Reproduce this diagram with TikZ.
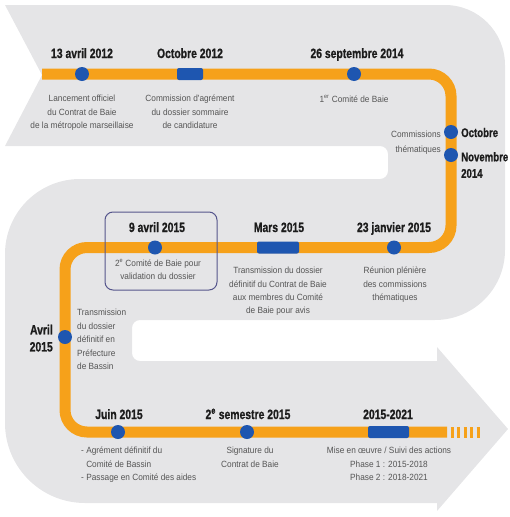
\documentclass[tikz,border=0pt]{standalone}
\usepackage{fontspec}
\setmainfont{Liberation Sans}
\newfontfamily\datef[FakeStretch=0.77,FakeBold=0.8]{Liberation Sans}
\newfontfamily\descf[FakeStretch=0.92]{Liberation Sans}
\definecolor{bgc}{RGB}{229,229,231}
\definecolor{orc}{RGB}{246,161,26}
\definecolor{blc}{RGB}{30,86,176}
\definecolor{datec}{RGB}{28,28,28}
\definecolor{descc}{RGB}{85,85,85}
\definecolor{boxc}{RGB}{85,85,140}
\tikzset{
  datelbl/.style={font=\datef\bfseries\fontsize{13.5}{17}\selectfont, text=datec, inner sep=0pt},
  sidelbl/.style={font=\datef\bfseries\fontsize{12.5}{16.5}\selectfont, text=datec, inner sep=0pt},
  desclbl/.style={font=\descf\fontsize{9}{13.3}\selectfont, text=descc, inner sep=0pt, align=center},
  dotmark/.style={circle, fill=blc, minimum size=14pt, inner sep=0pt},
  barmark/.style={rectangle, rounded corners=2pt, fill=blc, minimum height=12pt, inner sep=0pt},
  orline/.style={draw=orc, line width=11pt},
}
\begin{document}
\begin{tikzpicture}[x=1pt,y=-1pt]
\useasboundingbox (0,0) rectangle (510,517);
% background S-shaped band
\fill[bgc] (5,5) -- (445,5) arc[start angle=-90, end angle=0, radius=60]
  -- (505,250) arc[start angle=0, end angle=90, radius=70]
  -- (140,320) arc[start angle=-90, end angle=-180, radius=8]
  -- (132,353) arc[start angle=180, end angle=90, radius=8]
  -- (437,361) -- (437,347) -- (508,429) -- (437,511) -- (437,503)
  -- (85,503) arc[start angle=90, end angle=180, radius=80]
  -- (5,254) arc[start angle=180, end angle=270, radius=75]
  -- (380,179) arc[start angle=90, end angle=0, radius=8]
  -- (388,154) arc[start angle=0, end angle=-90, radius=8]
  -- (5,146) -- (42,75) -- cycle;
% orange route
\coordinate (s) at (42,74);
\coordinate (c1) at (451,74);
\coordinate (c2) at (451,247.5);
\coordinate (c3) at (65,247.5);
\coordinate (c4) at (65,432);
\coordinate (e) at (447,432);
\coordinate (d1) at (450.5,432);
\coordinate (d2) at (482,432);
\draw[orline, rounded corners=22pt] (s) -- (c1) -- (c2) -- (c3) -- (c4) -- (e);
\draw[orline, dash pattern=on 3pt off 3.5pt] (d1) -- (d2);
% highlight box
\node[draw=boxc, line width=1pt, rounded corners=8pt, minimum width=112pt, minimum height=78pt, inner sep=0pt] (hl) at (161,251) {};
% markers
\node[dotmark] (a1) at (82,74) {};
\node[barmark, minimum width=26pt] (a2) at (190,74) {};
\node[dotmark] (a3) at (354,74) {};
\node[dotmark] (o1) at (451,132) {};
\node[dotmark] (o2) at (451,155) {};
\node[dotmark] (m1) at (394,247.5) {};
\node[barmark, minimum width=42pt] (m2) at (278,247.5) {};
\node[dotmark] (m3) at (155,247.5) {};
\node[dotmark] (av) at (65,337) {};
\node[dotmark] (b1) at (118,432) {};
\node[dotmark] (b2) at (247,432) {};
\node[barmark, minimum width=41pt] (b3) at (388.5,432) {};
% dates
\node[datelbl, anchor=base] (t1) at (82,58) {13 avril 2012};
\node[datelbl, anchor=base] (t2) at (190,58) {Octobre 2012};
\node[datelbl, anchor=base] (t3) at (357,58) {26 septembre 2014};
\node[sidelbl, anchor=base west] (t4) at (461,137) {Octobre};
\node[sidelbl, anchor=north west, align=left] (t5) at (461,152) {Novembre\\2014};
\node[datelbl, anchor=base] (t6) at (157,232) {9 avril 2015};
\node[datelbl, anchor=base] (t7) at (279,232) {Mars 2015};
\node[datelbl, anchor=base] (t8) at (394,232) {23 janvier 2015};
\node[datelbl, anchor=north east, align=right] (t9) at (53,324.5) {Avril\\2015};
\node[datelbl, anchor=base] (t10) at (119,419) {Juin 2015};
\node[datelbl, anchor=base] (t11) at (248,419) {2\textsuperscript{e} semestre 2015};
\node[datelbl, anchor=base] (t12) at (388,419) {2015-2021};
% descriptions
\node[desclbl, anchor=north] (x1) at (82,95) {Lancement officiel\\du Contrat de Baie\\de la métropole marseillaise};
\node[desclbl, anchor=north] (x2) at (190,95) {Commission d'agrément\\du dossier sommaire\\de candidature};
\node[desclbl, anchor=north] (x3) at (354,95) {1\textsuperscript{er} Comité de Baie};
\node[desclbl, anchor=north east, align=right, font=\descf\fontsize{9}{14.5}\selectfont] (x4) at (441,131) {Commissions\\thématiques};
\node[desclbl, anchor=north] (x5) at (158,259) {2\textsuperscript{e} Comité de Baie pour\\validation du dossier};
\node[desclbl, anchor=north] (x6) at (278,267) {Transmission du dossier\\définitif du Contrat de Baie\\aux membres du Comité\\de Baie pour avis};
\node[desclbl, anchor=north] (x7) at (395,267) {Réunion plénière\\des commissions\\thématiques};
\node[desclbl, anchor=north west, align=left, font=\descf\fontsize{9}{13.5}\selectfont] (x8) at (77,309) {Transmission\\du dossier\\définitif en\\Préfecture\\de Bassin};
\node[desclbl, anchor=north west, align=left] (x9) at (81,447) {- Agrément définitif du\\\phantom{- }Comité de Bassin\\- Passage en Comité des aides};
\node[desclbl, anchor=north] (x10) at (250,447) {Signature du\\Contrat de Baie};
\node[desclbl, anchor=north] (x11) at (389,447) {Mise en œuvre / Suivi des actions\\Phase 1 : 2015-2018\\Phase 2 : 2018-2021};
\end{tikzpicture}
\end{document}
